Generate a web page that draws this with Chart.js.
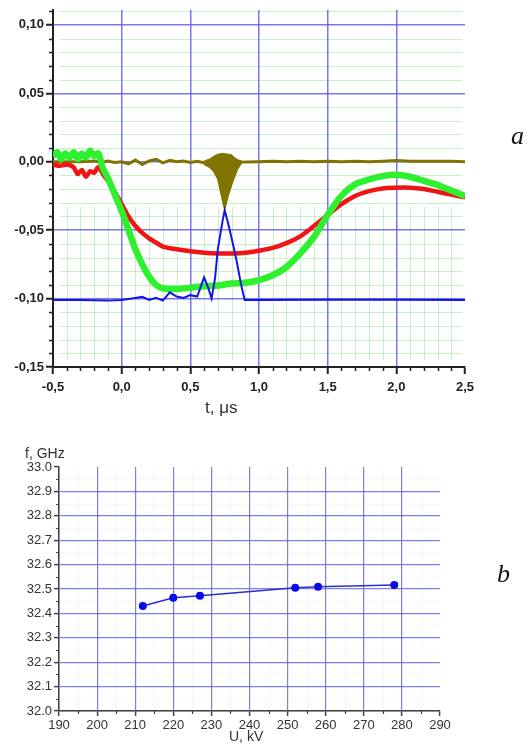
<!DOCTYPE html>
<html>
<head>
<meta charset="utf-8">
<script src="https://cdn.jsdelivr.net/npm/chart.js@4.4.1/dist/chart.umd.min.js"></script>
<style>
  body { margin: 0; background: #fff; width: 530px; height: 744px; overflow: hidden; position: relative; font-family: 'Liberation Sans', Arial, sans-serif; }
  canvas { position: absolute; left: 0; }
  .lbl { position: absolute; white-space: nowrap; line-height: 1; color: #333; }
  .tag { position: absolute; line-height: 1; font-family: 'Liberation Serif', 'DejaVu Serif', serif; font-style: italic; font-size: 26px; color: #111; }
</style>
</head>
<body>
<canvas id="chartA" width="530" height="420" style="top:0"></canvas>
<canvas id="chartB" width="530" height="304" style="top:440px"></canvas>
<div class="lbl" style="left:205px;top:399px;font-size:17px;">t, μs</div>
<div class="lbl" style="left:25px;top:446px;font-size:14px;">f, GHz</div>
<div class="lbl" style="left:229px;top:729px;font-size:14px;">U, kV</div>
<div class="tag" style="left:511px;top:123px;">a</div>
<div class="tag" style="left:497px;top:561px;">b</div>
<script>
// ---- panel a: oscillograms ----
const tTicks = [-0.5, 0, 0.5, 1, 1.5, 2, 2.5];
const vTicks = [-0.15, -0.1, -0.05, 0, 0.05, 0.1];

const redT = [-0.5, -0.45, -0.4, -0.35, -0.32, -0.29, -0.26, -0.23, -0.2, -0.17, -0.13, -0.1, -0.05, 0, 0.05, 0.1, 0.15, 0.2, 0.25, 0.3, 0.4, 0.5, 0.6, 0.7, 0.8, 0.9, 1.0, 1.1, 1.2, 1.3, 1.4, 1.5, 1.6, 1.7, 1.8, 1.9, 2.0, 2.1, 2.2, 2.3, 2.4, 2.5];
const redV = [-0.002, -0.003, -0.002, -0.004, -0.009, -0.006, -0.011, -0.007, -0.008, -0.004, -0.01, -0.014, -0.022, -0.031, -0.04, -0.047, -0.052, -0.056, -0.059, -0.062, -0.064, -0.0655, -0.0665, -0.067, -0.067, -0.0665, -0.065, -0.063, -0.0595, -0.0545, -0.047, -0.039, -0.031, -0.025, -0.0215, -0.0195, -0.019, -0.019, -0.02, -0.022, -0.024, -0.026];

const greenT = [-0.5, -0.47, -0.44, -0.41, -0.38, -0.35, -0.32, -0.29, -0.26, -0.23, -0.2, -0.17, -0.14, -0.1, -0.05, 0, 0.05, 0.1, 0.15, 0.2, 0.25, 0.3, 0.4, 0.5, 0.6, 0.7, 0.8, 0.9, 1.0, 1.1, 1.2, 1.3, 1.4, 1.5, 1.6, 1.7, 1.8, 1.9, 2.0, 2.1, 2.2, 2.3, 2.4, 2.5];
const greenV = [0.004, 0.007, 0.002, 0.006, 0.003, 0.007, 0.002, 0.006, 0.003, 0.008, 0.004, 0.006, -0.004, -0.012, -0.024, -0.036, -0.05, -0.064, -0.075, -0.084, -0.09, -0.0925, -0.093, -0.092, -0.091, -0.0905, -0.089, -0.0885, -0.0865, -0.083, -0.077, -0.067, -0.055, -0.039, -0.025, -0.0165, -0.013, -0.0105, -0.0095, -0.011, -0.014, -0.017, -0.021, -0.025];

const blueT = [-0.5, -0.3, -0.1, 0, 0.1, 0.15, 0.2, 0.25, 0.3, 0.35, 0.4, 0.45, 0.5, 0.55, 0.6, 0.63, 0.655, 0.68, 0.7, 0.735, 0.75, 0.775, 0.81, 0.835, 0.87, 0.896, 1.0, 1.5, 2.0, 2.5];
const blueV = [-0.101, -0.101, -0.1015, -0.101, -0.0995, -0.0987, -0.101, -0.0995, -0.1015, -0.0955, -0.0985, -0.0995, -0.0975, -0.0985, -0.0845, -0.092, -0.1, -0.085, -0.064, -0.043, -0.0355, -0.045, -0.06, -0.0715, -0.09, -0.101, -0.101, -0.1008, -0.1008, -0.101];

const oliveT = [-0.5, -0.4, -0.3, -0.2, -0.15, -0.1, -0.05, 0, 0.05, 0.1, 0.15, 0.2, 0.25, 0.3, 0.35, 0.4, 0.45, 0.5, 0.55, 0.6, 0.65, 0.7, 0.75, 0.8, 0.85, 0.9, 1.0, 1.1, 1.2, 1.3, 1.4, 1.5, 1.6, 1.7, 1.8, 1.9, 2.0, 2.1, 2.2, 2.3, 2.4, 2.5];
const oliveV = [0, 0, 0, 0.0005, -0.0005, 0.0005, -0.0005, 0, -0.0015, 0.0012, -0.002, 0.0005, 0.0018, -0.0008, 0.001, 0, 0.0005, -0.0005, 0.0003, -0.0008, 0, 0, 0, 0, 0, -0.0003, 0, 0.0003, 0, 0.0003, 0, 0.0003, 0, 0.0003, 0, 0.0003, 0.0008, 0.0003, 0.0003, 0.0003, 0.0003, 0];

const dipT = [0.6, 0.64, 0.67, 0.7, 0.725, 0.75, 0.775, 0.8, 0.822, 0.845, 0.872];
const dipHigh = [0.0005, 0.002, 0.004, 0.0055, 0.006, 0.006, 0.0055, 0.005, 0.003, 0.0015, 0.0005];
const dipLow = [-0.002, -0.004, -0.007, -0.0125, -0.024, -0.035, -0.025, -0.017, -0.011, -0.005, -0.001];

// ---- panel b: frequency vs voltage ----
const uTicks = [190, 200, 210, 220, 230, 240, 250, 260, 270, 280, 290];
const fTicks = [32.0, 32.1, 32.2, 32.3, 32.4, 32.5, 32.6, 32.7, 32.8, 32.9, 33.0];
const uKV = [212, 220, 227, 252, 258, 278];
const fGHz = [32.43, 32.464, 32.472, 32.505, 32.509, 32.516];

const pts = (xs, ys) => xs.map((x, i) => ({ x, y: ys[i] }));
const comma = (v, d) => v.toFixed(d).replace('.', ',');

const minorTicks = {
  id: 'minorTicks',
  afterDraw(chart, args, opts) {
    const { ctx, chartArea: a, scales: { x, y } } = chart;
    ctx.save();
    ctx.strokeStyle = opts.color;
    ctx.lineWidth = opts.width;
    ctx.beginPath();
    opts.x.forEach(v => {
      const px = Math.round(x.getPixelForValue(v)) + 0.5;
      ctx.moveTo(px, a.bottom);
      ctx.lineTo(px, a.bottom + opts.len);
    });
    opts.y.forEach(v => {
      const py = Math.round(y.getPixelForValue(v)) + 0.5;
      ctx.moveTo(a.left, py);
      ctx.lineTo(a.left - opts.len, py);
    });
    ctx.stroke();
    ctx.restore();
  }
};

const minorGrid = {
  id: 'minorGrid',
  beforeDraw(chart, args, opts) {
    const { ctx, scales: { x, y } } = chart;
    ctx.save();
    ctx.strokeStyle = opts.color;
    ctx.lineWidth = 1;
    ctx.beginPath();
    opts.h.forEach(v => {
      const py = Math.round(y.getPixelForValue(v)) + 0.5;
      ctx.moveTo(x.getPixelForValue(opts.hFrom), py);
      ctx.lineTo(x.getPixelForValue(opts.hTo), py);
    });
    opts.v.forEach(t => {
      const px = Math.round(x.getPixelForValue(t)) + 0.5;
      ctx.moveTo(px, y.getPixelForValue(opts.vFrom));
      ctx.lineTo(px, y.getPixelForValue(opts.vTo));
    });
    ctx.stroke();
    ctx.restore();
  }
};

const steps = (from, to, step, skip) => {
  const out = [];
  const n = Math.round((to - from) / step);
  for (let i = 0; i <= n; i++) {
    const v = +(from + i * step).toFixed(4);
    if (Math.abs(v / skip - Math.round(v / skip)) > 1e-6) out.push(v);
  }
  return out;
};

const blueGridA = 'rgba(85,85,235,0.8)';
const boldFont = { family: 'Liberation Sans, Arial, sans-serif', weight: 'bold', size: 13 };

new Chart(document.getElementById('chartA'), {
  type: 'line',
  data: {
    datasets: [
      { data: pts(oliveT, oliveV), borderColor: '#807400', borderWidth: 3, pointRadius: 0, order: 5 },
      { data: pts(dipT, dipHigh), borderColor: '#807400', backgroundColor: '#807400', borderWidth: 1, pointRadius: 0, fill: '+1', order: 4 },
      { data: pts(dipT, dipLow), borderColor: '#807400', borderWidth: 1.5, pointRadius: 0, order: 4 },
      { data: pts(redT, redV), borderColor: '#f01414', borderWidth: 4.5, pointRadius: 0, tension: 0.3, order: 2 },
      { data: pts(greenT, greenV), borderColor: '#2ef02e', borderWidth: 6.5, pointRadius: 0, tension: 0.3, order: 1 },
      { data: pts(blueT, blueV), borderColor: '#1414e6', borderWidth: 2, pointRadius: 0, order: 0 }
    ]
  },
  options: {
    responsive: false,
    animation: false,
    layout: { padding: { top: 0, right: 65, left: 0, bottom: 0 } },
    plugins: {
      legend: { display: false },
      tooltip: { enabled: false },
      minorTicks: { x: steps(-0.5, 2.5, 0.1, 0.5), y: steps(-0.15, 0.11, 0.01, 0.05), len: 4, width: 1.5, color: '#222' },
      minorGrid: { color: 'rgba(160,230,160,0.6)', h: steps(-0.14, 0.11, 0.01, 0.05), hFrom: -0.45, hTo: 2.48, v: steps(-0.4, 2.4, 0.1, 0.5), vFrom: -0.033, vTo: -0.145 }
    },
    scales: {
      x: {
        type: 'linear', min: -0.5, max: 2.5,
        afterBuildTicks: s => { s.ticks = tTicks.map(v => ({ value: v })); },
        afterFit: s => { s.height = 53; },
        grid: { color: c => (c.tick && c.tick.value === 2.5 ? 'rgba(0,0,0,0)' : blueGridA), lineWidth: 1.5, tickColor: '#222', tickLength: 7, tickWidth: 2 },
        border: { color: '#222', width: 2 },
        ticks: { font: boldFont, color: '#222', padding: 6, maxRotation: 0, callback: v => comma(v, 1) }
      },
      y: {
        type: 'linear', min: -0.15, max: 0.111,
        afterBuildTicks: s => { s.ticks = vTicks.map(v => ({ value: v })); },
        afterFit: s => { s.width = 53; },
        grid: { color: blueGridA, lineWidth: 1.5, tickColor: '#222', tickLength: 7, tickWidth: 2 },
        border: { color: '#222', width: 2 },
        ticks: { font: boldFont, color: '#222', padding: 2, callback: v => comma(v, 2) }
      }
    }
  },
  plugins: [minorGrid, minorTicks]
});

const blueGridB = 'rgba(95,95,225,0.8)';
const plainFont = { family: 'Liberation Sans, Arial, sans-serif', size: 13 };

new Chart(document.getElementById('chartB'), {
  type: 'line',
  data: {
    datasets: [
      { data: pts(uKV, fGHz), borderColor: '#2c2cd6', borderWidth: 1.5, pointRadius: 4, pointBackgroundColor: '#0a0ae8', pointBorderWidth: 0, tension: 0 }
    ]
  },
  options: {
    responsive: false,
    animation: false,
    layout: { padding: { top: 27, right: 90, left: 0, bottom: 0 } },
    plugins: {
      legend: { display: false },
      tooltip: { enabled: false },
      minorTicks: { x: steps(195, 285, 10, 1000), y: steps(32.05, 32.95, 0.1, 1000), len: 3, width: 1.2, color: '#444' },
      minorGrid: { color: 'rgba(170,170,230,0.1)', h: steps(32.05, 32.95, 0.1, 1000), hFrom: 190, hTo: 290, v: steps(195, 285, 10, 1000), vFrom: 32.0, vTo: 33.0 }
    },
    scales: {
      x: {
        type: 'linear', min: 190, max: 290,
        afterBuildTicks: s => { s.ticks = uTicks.map(v => ({ value: v })); },
        afterFit: s => { s.height = 33; },
        grid: { color: c => (c.tick && c.tick.value === 290 ? 'rgba(0,0,0,0)' : blueGridB), lineWidth: 1.2, tickColor: '#444', tickLength: 5, tickWidth: 1.5 },
        border: { color: '#444', width: 1.5 },
        ticks: { font: plainFont, color: '#333', padding: 2, maxRotation: 0, callback: v => String(v) }
      },
      y: {
        type: 'linear', min: 32.0, max: 33.0,
        afterBuildTicks: s => { s.ticks = fTicks.map(v => ({ value: v })); },
        afterFit: s => { s.width = 59; },
        grid: { color: c => (c.tick && Math.abs(c.tick.value - 33) < 1e-6 ? 'rgba(0,0,0,0)' : blueGridB), lineWidth: 1.2, tickColor: '#444', tickLength: 5, tickWidth: 1.5 },
        border: { color: '#444', width: 1.5 },
        ticks: { font: plainFont, color: '#333', padding: 2, callback: v => v.toFixed(1) }
      }
    }
  },
  plugins: [minorGrid, minorTicks]
});
</script>
</body>
</html>
